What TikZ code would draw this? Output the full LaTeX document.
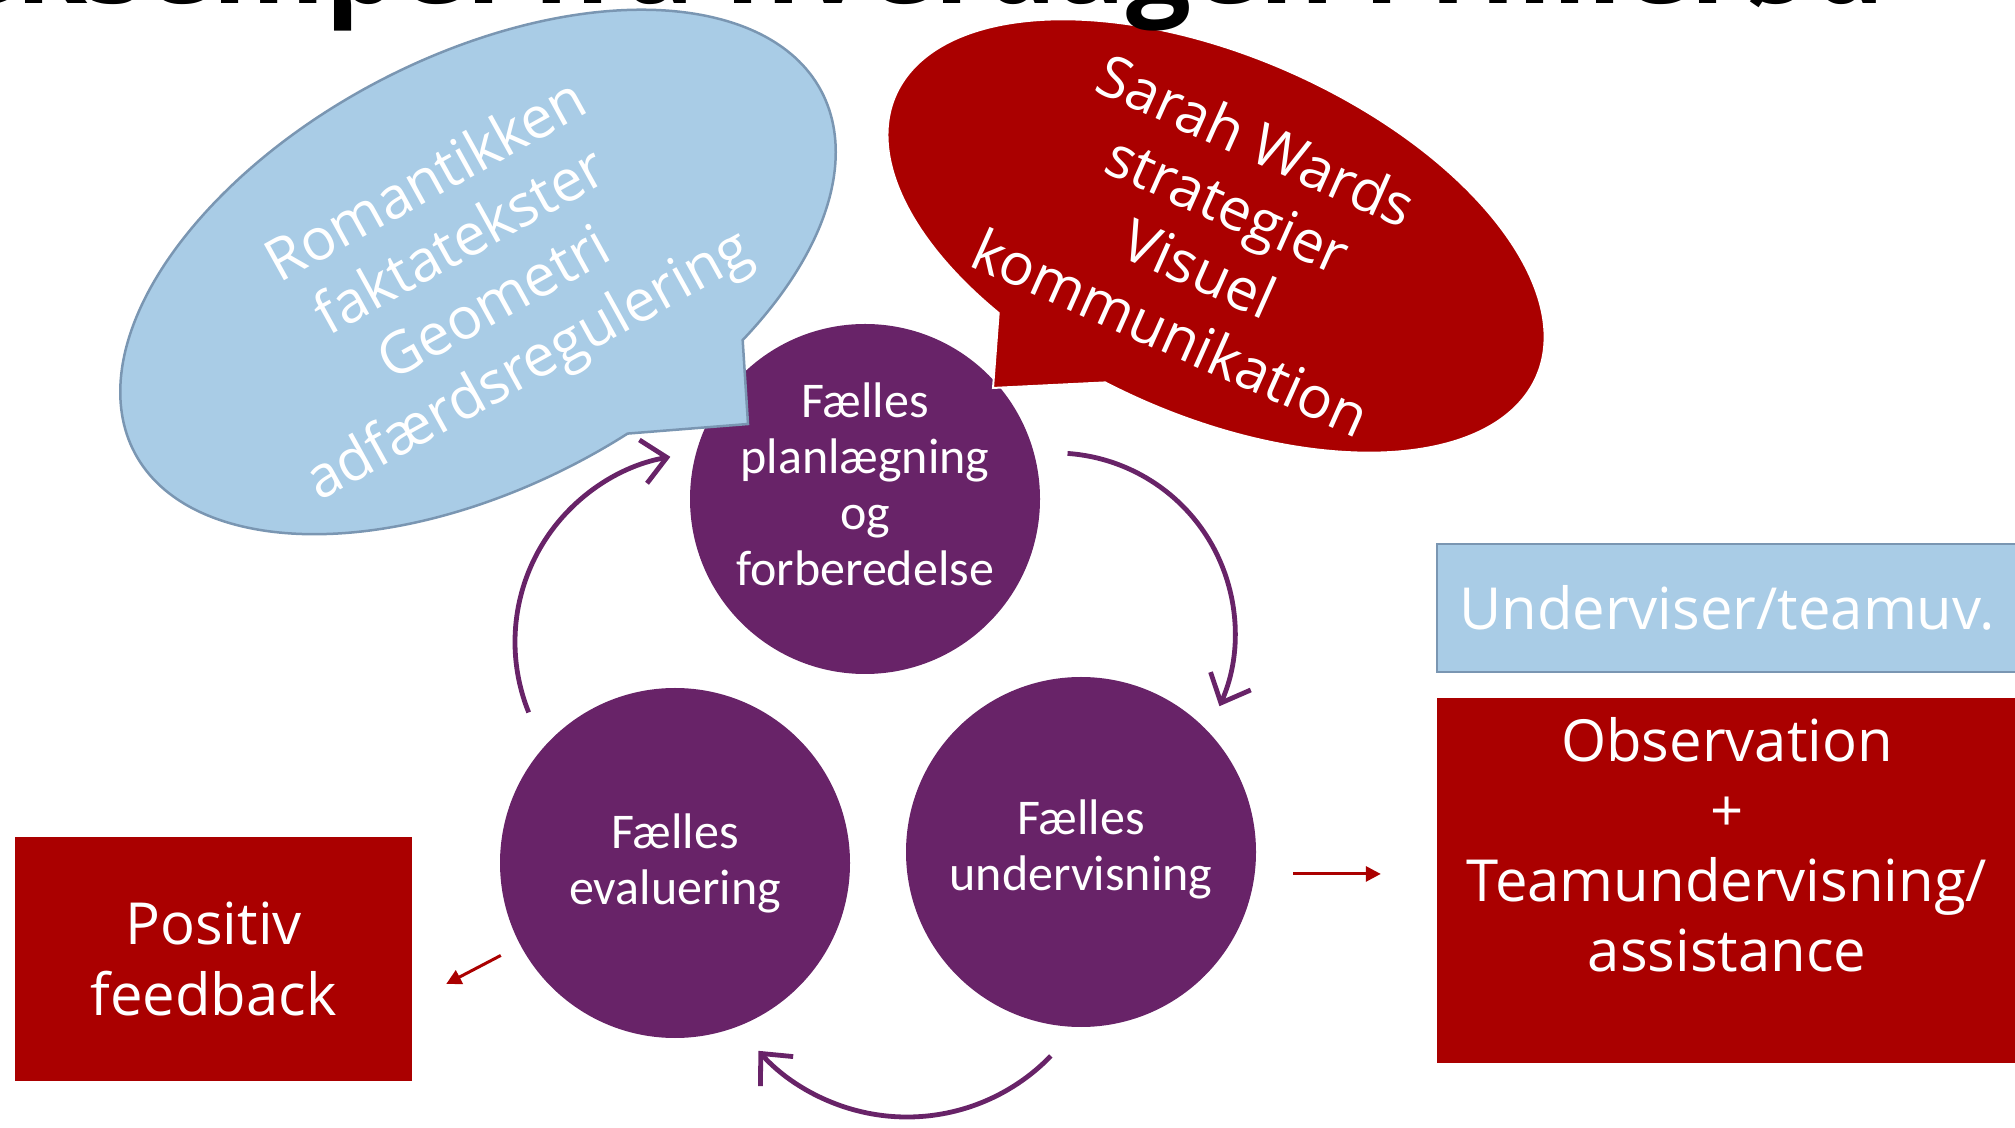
\documentclass[tikz,border=0pt]{standalone}
\usepackage{fontspec}
\setmainfont{Open Sans}
\newfontfamily\circfont{Carlito}
\usetikzlibrary{positioning,arrows.meta}

\definecolor{darkred}{RGB}{170,0,0}
\definecolor{cycpurple}{RGB}{104,35,104}
\definecolor{paleblue}{RGB}{169,204,230}
\definecolor{blueedge}{RGB}{122,150,178}

\tikzstyle{circ}=[circle,fill=cycpurple,minimum size=350pt,inner sep=0pt,text=white,align=center,font=\circfont\fontsize{50}{56}\selectfont]
\tikzstyle{redbox}=[rectangle,fill=darkred,text=white,align=center,font=\fontsize{58}{70}\selectfont]
\tikzstyle{bluebox}=[rectangle,fill=paleblue,draw=blueedge,line width=2.5pt,text=white,align=center,font=\fontsize{58}{70}\selectfont]
\tikzstyle{boxtext}=[text=white,align=center,font=\fontsize{58}{70}\selectfont]
\tikzstyle{bubbletext}=[text=white,align=center,font=\fontsize{58}{70}\selectfont]
\tikzstyle{bluebubble}=[fill=paleblue,draw=blueedge,line width=2.5pt]
\tikzstyle{redbubble}=[fill=darkred,draw=white,line width=2pt]
\tikzstyle{cyc}=[-{Straight Barb[length=24pt,width=44pt]},draw=cycpurple,line width=4.8pt]
\tikzstyle{post}=[-{Triangle[length=15pt,width=15pt]},draw=darkred,line width=3pt]
\tikzstyle{titletext}=[font=\bfseries\fontsize{115}{120}\selectfont,inner sep=0pt]

\begin{document}
\begin{tikzpicture}[x=1pt,y=1pt]
        \useasboundingbox (0,0) rectangle (2015,1127);
        \clip (0,0) rectangle (2015,1127);

        \node[circ,text depth=30pt] (plan) at (865,628) {Fælles\\planlægning\\og\\forberedelse};
        \node[circ] (evalu)  at (675,264)  {Fælles\\evaluering};
        \node[circ,text depth=14pt] (underv) at (1081,275) {Fælles\\undervisning};

        \coordinate (arcA) at (1055,494);
        \coordinate (arcB) at (907,210);
        \coordinate (arcC) at (703,485);
        \draw[cyc] ([shift={(86:180)}]arcA)  arc[start angle=86,end angle=-24,radius=180pt];
        \draw[cyc] ([shift={(-44:200)}]arcB) arc[start angle=-44,end angle=-138,radius=200pt];
        \draw[cyc] ([shift={(202:188)}]arcC) arc[start angle=202,end angle=100,radius=188pt];

        \begin{scope}[shift={(478,855)},rotate=27.7]
          \draw[bluebubble] (-58.5:388pt and 215pt) arc[start angle=-58.5,end angle=278.5,x radius=388pt,y radius=215pt] -- (168.4,-260.1) -- cycle;
        \end{scope}
        \begin{scope}[shift={(1216,891)},rotate=-23.7]
          \draw[redbubble] (-97:350pt and 180pt) arc[start angle=-97,end angle=241.3,x radius=350pt,y radius=180pt] -- (-143.1,-228.8) -- cycle;
        \end{scope}

        \node[bubbletext,rotate=29]  (bluetxt) at (479,851)  {Romantikken\\faktatekster\\Geometri\\adfærdsregulering};
        \node[bubbletext,rotate=-24] (redtxt)  at (1214,891) {Sarah Wards\\strategier\\Visuel\\kommunikation};

        \node[bluebox,minimum width=580pt,minimum height=128pt] (teamuv) at (1727,519) {Underviser/teamuv.};
        \node[redbox,minimum width=580pt,minimum height=365pt] (obs) [below=25pt of teamuv] {};
        \node[boxtext] (obstext) at ([yshift=36.5pt]obs.center) {Observation\\+\\Teamundervisning/\\assistance};
        \node[redbox,minimum width=397pt,minimum height=244pt] (fbk) at (213.5,168) {Positiv\\feedback};

        \draw[post,shorten <=37pt,shorten >=56pt] ([yshift=7pt]underv.east |- obs.west) -- ([yshift=7pt]obs.west);
        \draw[post,shorten <=22pt] (evalu.208) -- ([shift={(34,-25)}]fbk.east);

        \node[titletext,anchor=base east] (title) at (1885,1123) {eksempel fra hverdagen i Hillerød};
\end{tikzpicture}
\end{document}
